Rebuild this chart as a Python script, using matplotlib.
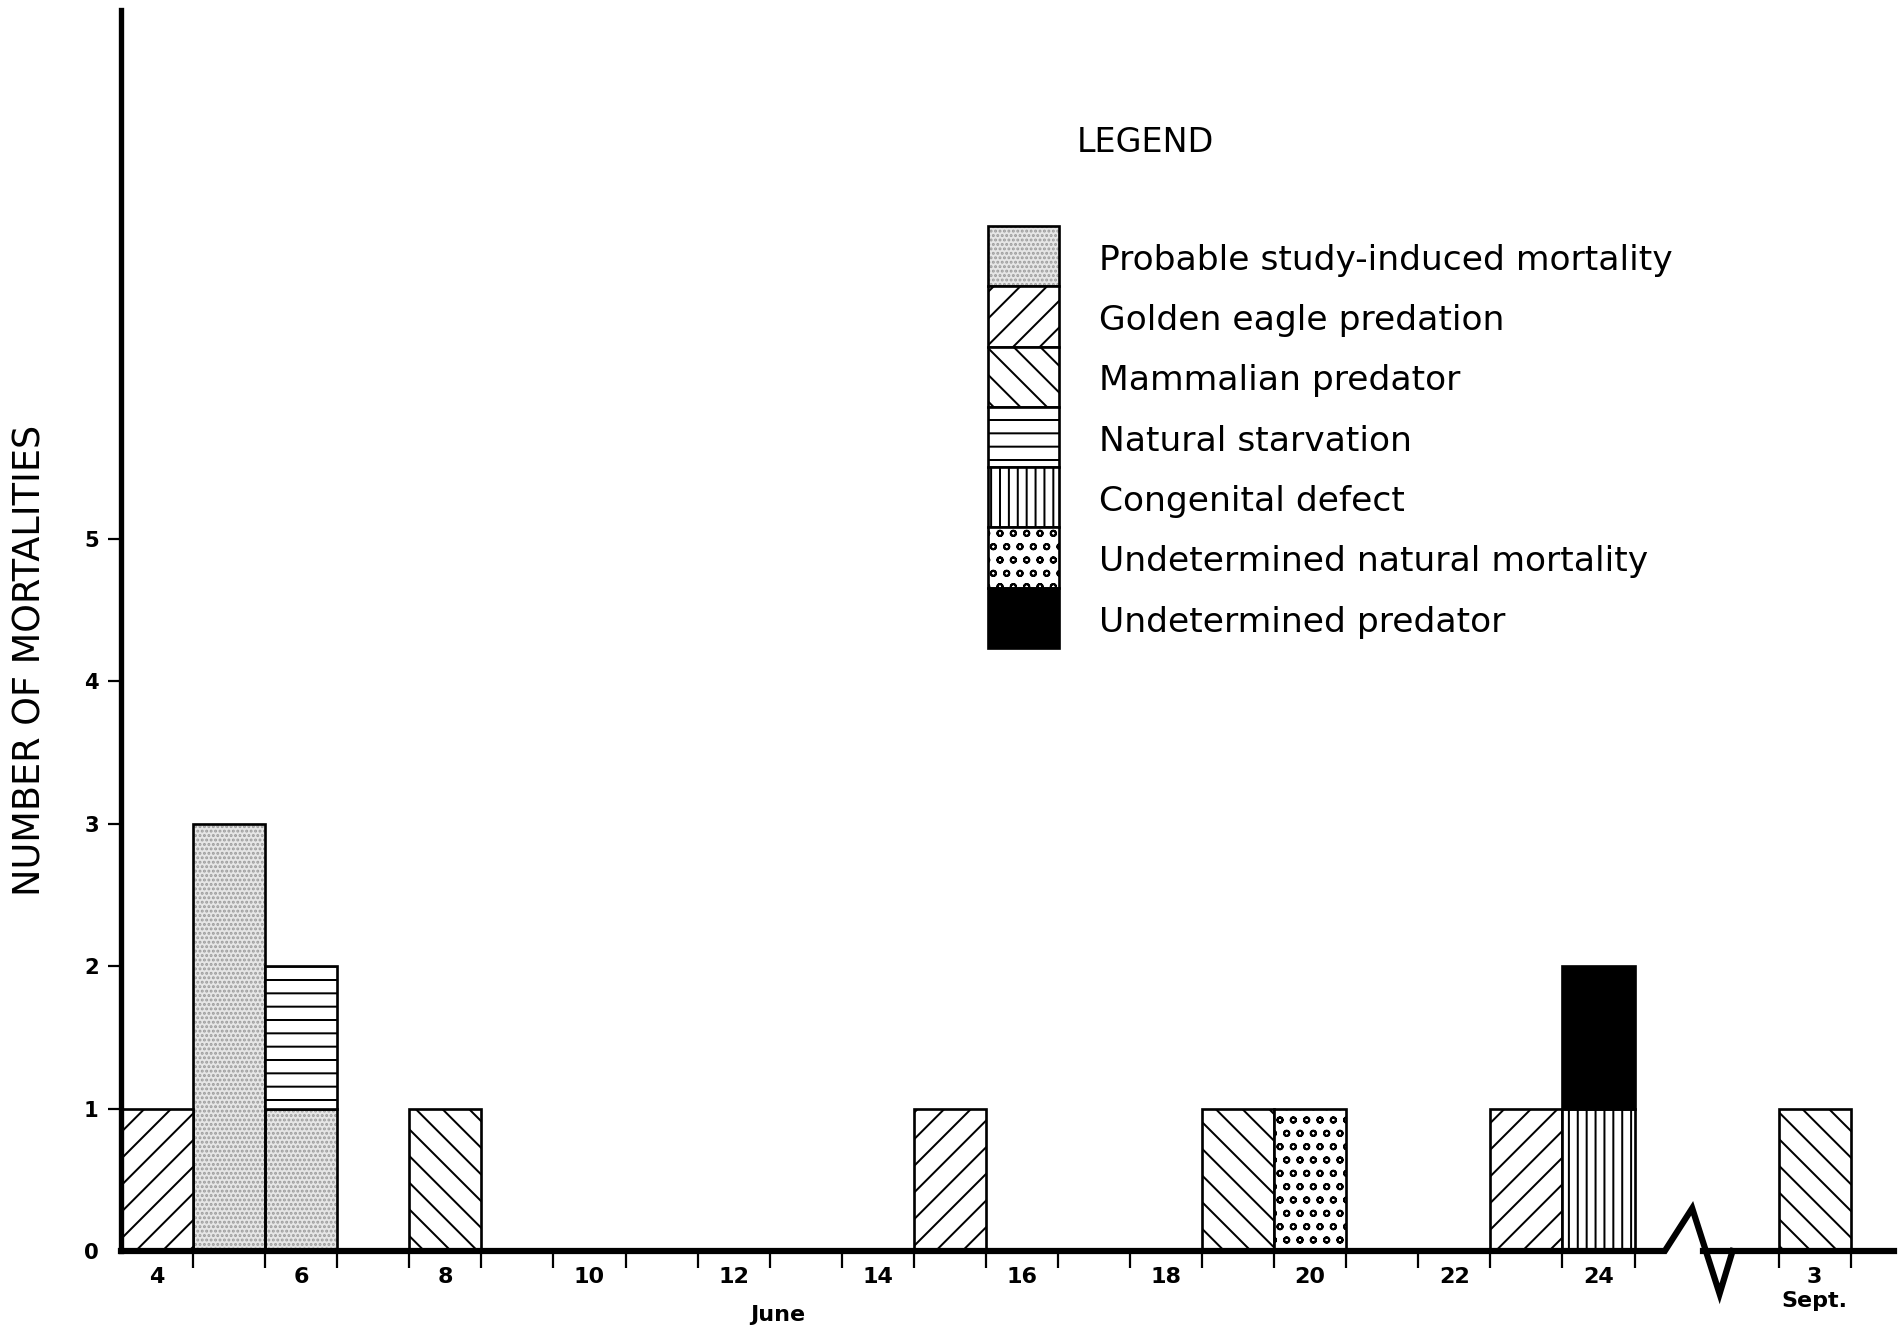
import numpy as np
import matplotlib.pyplot as plt
from matplotlib.transforms import blended_transform_factory

# mortality dates: June days, then one September day drawn after an axis break
june_days = [4, 5, 6, 8, 15, 19, 20, 23, 24]
sept_days = [3]
sept_offset = 24  # Sept day d sits at 24 + d on the axis

causes = ['Probable study-induced mortality', 'Golden eagle predation',
          'Mammalian predator', 'Natural starvation', 'Congenital defect',
          'Undetermined natural mortality', 'Undetermined predator']

# number of mortalities per date (june_days then sept_days)
study_induced = [0, 3, 1, 0, 0, 0, 0, 0, 0, 0]
golden_eagle = [1, 0, 0, 0, 1, 0, 0, 1, 0, 0]
mammalian = [0, 0, 0, 1, 0, 1, 0, 0, 0, 1]
starvation = [0, 0, 1, 0, 0, 0, 0, 0, 0, 0]
congenital = [0, 0, 0, 0, 0, 0, 0, 0, 1, 0]
undet_natural = [0, 0, 0, 0, 0, 0, 1, 0, 0, 0]
undet_predator = [0, 0, 0, 0, 0, 0, 0, 0, 1, 0]

june_labels = [4, 6, 8, 10, 12, 14, 16, 18, 20, 22, 24]
sept_labels = ['3\nSept.']
y_ticks = [0, 1, 2, 3, 4, 5]

# fill style per cause: (facecolor, hatch colour, hatch)
styles = [('#e6e6e6', '#9c9c9c', '......'),
          ('white', 'black', '//'),
          ('white', 'black', '\\\\'),
          ('white', 'black', '--'),
          ('white', 'black', '|||'),
          ('white', 'black', 'oo'),
          ('black', 'black', None)]

plt.rcParams['hatch.linewidth'] = 0.9
plt.rcParams['font.family'] = ['DejaVu Sans']

DPI = 160
fig = plt.figure(figsize=(1898 / DPI, 1329 / DPI), dpi=DPI)
ax = fig.add_axes([121 / 1898, 78 / 1329, 1773 / 1898, 1241 / 1329])

xmin, xmax = 3.5, 28.1
ax.set_xlim(xmin, xmax)
ax.set_ylim(0, 8.71)


def draw_bar(a, x, h, bottom, style, edge_lw=1.2):
    fc, hc, hatch = style
    a.bar(x, h, bottom=bottom, width=1.0, color=fc, edgecolor=hc,
          hatch=hatch, linewidth=0, clip_on=False)
    a.bar(x, h, bottom=bottom, width=1.0, fill=False, edgecolor='black',
          linewidth=edge_lw, clip_on=False)


positions = np.array(june_days + [sept_offset + d for d in sept_days], dtype=float)
series = [study_induced, golden_eagle, mammalian, starvation,
          congenital, undet_natural, undet_predator]
bottom = np.zeros(len(positions))
for vals, style in zip(series, styles):
    vals = np.array(vals, dtype=float)
    m = vals > 0
    if m.any():
        draw_bar(ax, positions[m], vals[m], bottom[m], style)
    bottom += vals

# axes styling
for s in ['top', 'right', 'bottom']:
    ax.spines[s].set_visible(False)
ax.spines['left'].set_linewidth(2.4)

# baseline with the zigzag break between June and September
brk_x = [xmin, 24.92, 25.3, 25.68, 25.86]
brk_y = [0, 0, 0.3, -0.3, 0]
ax.plot(brk_x, brk_y, color='black', lw=2.8, clip_on=False,
        solid_joinstyle='miter', zorder=5)
ax.plot([25.45, xmax], [0, 0], color='black', lw=2.8, clip_on=False, zorder=5)

# x ticks at bar edges, labels centred under days
edges = [d + 0.5 for d in range(june_days[0], june_days[-1] + 1)]
edges += [sept_offset + sept_days[0] - 0.5, sept_offset + sept_days[0] + 0.5]
ax.set_xticks(edges)
ax.set_xticklabels([])
ax.tick_params(axis='x', which='major', direction='out', length=7.5, width=1.0)
ax.set_xticks(june_labels + [sept_offset + d for d in sept_days], minor=True)
ax.set_xticklabels([str(d) for d in june_labels] + sept_labels, minor=True,
                   fontsize=10, fontweight='bold', linespacing=1.25)
ax.tick_params(axis='x', which='minor', length=0, pad=7)

ax.set_yticks(y_ticks)
ax.set_yticklabels([str(v) for v in y_ticks], fontsize=9.5, fontweight='bold')
ax.tick_params(axis='y', direction='out', length=6, width=1.0, pad=4)
ax.yaxis.get_major_ticks()[0].tick1line.set_visible(False)

fig.text(30 / 1898, 1 - 660 / 1329, 'NUMBER OF MORTALITIES', rotation=90,
         ha='center', va='center', fontsize=16.5)
fig.text(778 / 1898, 1 - 1315 / 1329, 'June', ha='center', va='center',
         fontsize=10, fontweight='bold')

# legend drawn as a stacked column of swatches
fig.text(1077 / 1898, 1 - 142 / 1329, 'LEGEND', ha='left', va='center',
         fontsize=15)
ax_leg = fig.add_axes([988 / 1898, 1 - 648 / 1329, 71 / 1898, 422 / 1329])
ax_leg.set_xlim(0, 1)
ax_leg.set_ylim(len(causes), 0)
ax_leg.axis('off')
tr = blended_transform_factory(ax_leg.transAxes, ax_leg.transData)
for i, (cause, style) in enumerate(zip(causes, styles)):
    draw_bar(ax_leg, 0.5, 1, i, style)
    ax_leg.text(1.56, i + 0.57, cause, transform=tr, ha='left', va='center',
                fontsize=15.5)

fig.savefig('out.png', dpi=DPI)
